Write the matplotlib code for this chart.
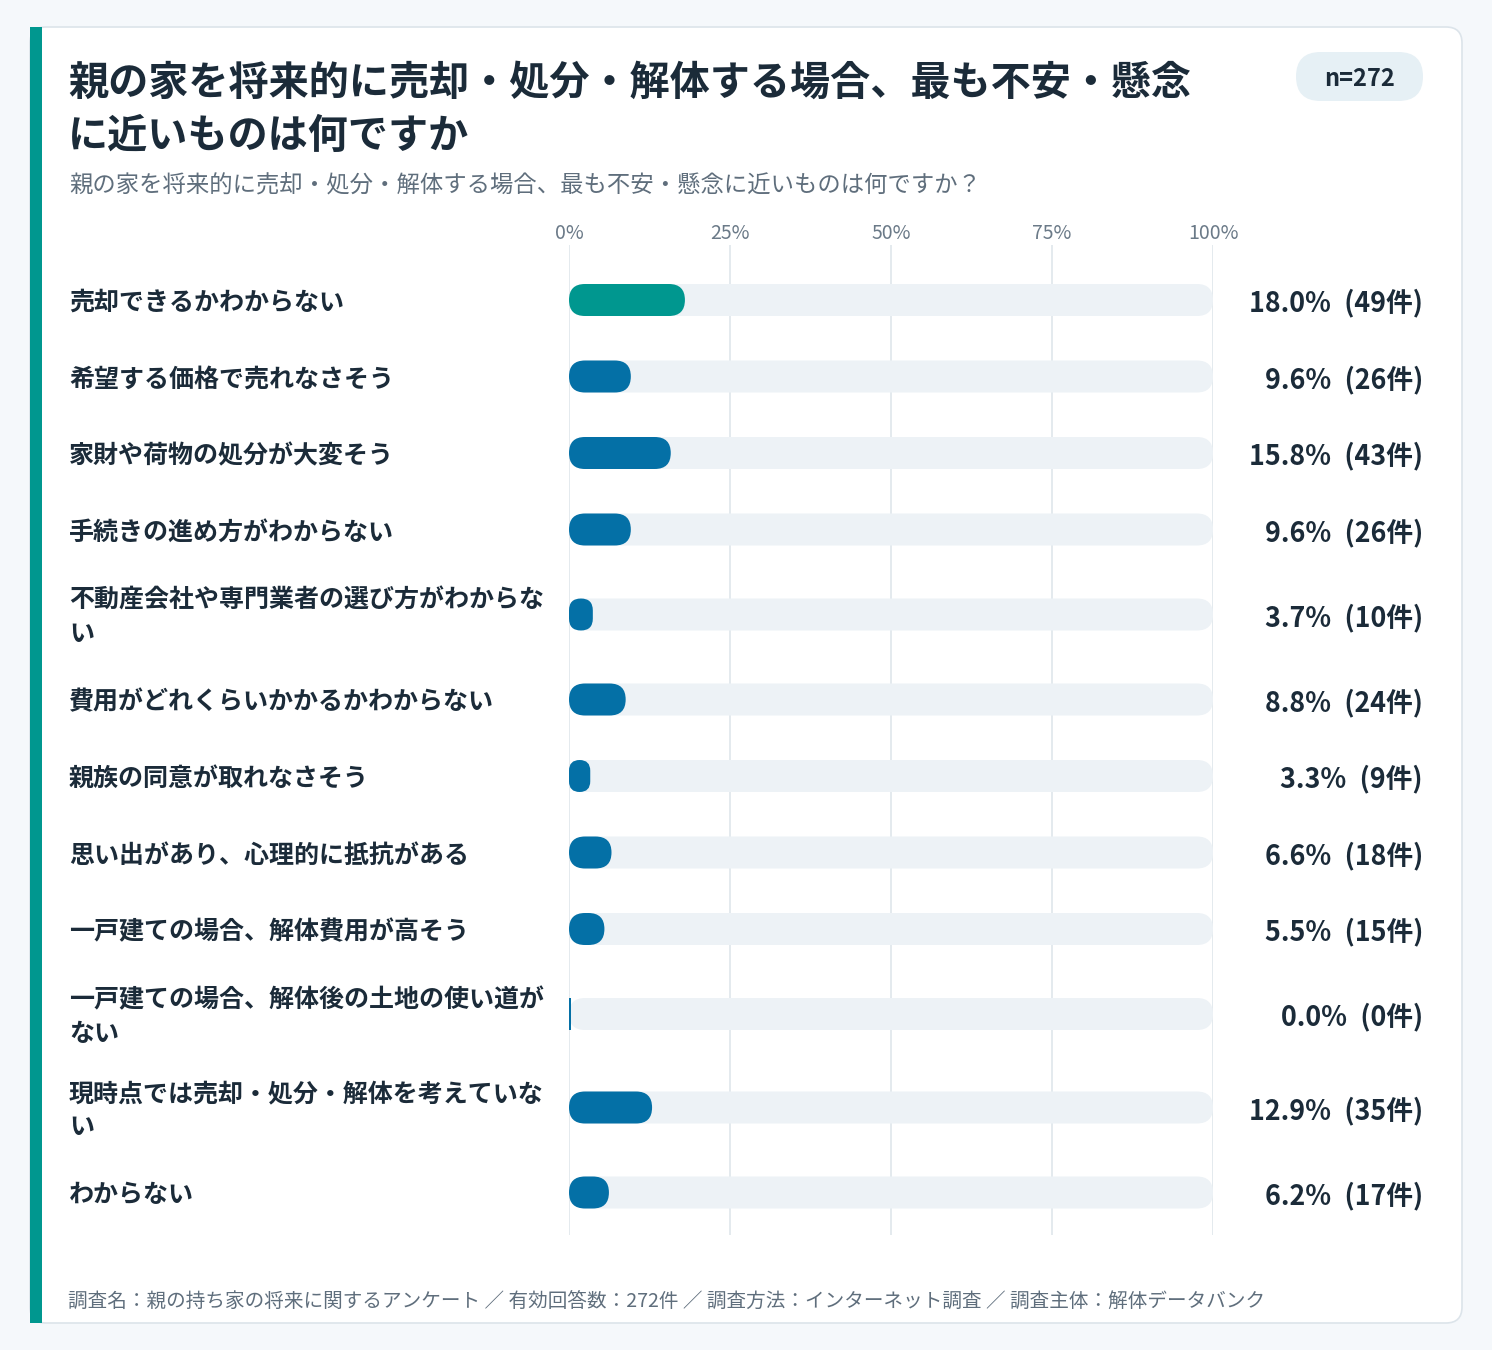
"""Survey bar chart: worries about selling / disposing of parents' house."""
import matplotlib
matplotlib.use("Agg")
import matplotlib.pyplot as plt
from matplotlib.patches import FancyBboxPatch, Rectangle

plt.rcParams["font.family"] = ["Noto Sans CJK JP", "DejaVu Sans"]

W, H = 1492, 1350

TITLE_LINES = ["親の家を将来的に売却・処分・解体する場合、最も不安・懸念",
               "に近いものは何ですか"]
SUBTITLE = "親の家を将来的に売却・処分・解体する場合、最も不安・懸念に近いものは何ですか？"
N_LABEL = "n=272"
FOOTER = ("調査名：親の持ち家の将来に関するアンケート ／ 有効回答数：272件 ／ "
          "調査方法：インターネット調査 ／ 調査主体：解体データバンク")

categories = [
    "売却できるかわからない",
    "希望する価格で売れなさそう",
    "家財や荷物の処分が大変そう",
    "手続きの進め方がわからない",
    "不動産会社や専門業者の選び方がわからな\nい",
    "費用がどれくらいかかるかわからない",
    "親族の同意が取れなさそう",
    "思い出があり、心理的に抵抗がある",
    "一戸建ての場合、解体費用が高そう",
    "一戸建ての場合、解体後の土地の使い道が\nない",
    "現時点では売却・処分・解体を考えていな\nい",
    "わからない",
]
percents = [18.0, 9.6, 15.8, 9.6, 3.7, 8.8, 3.3, 6.6, 5.5, 0.0, 12.9, 6.2]
counts = [49, 26, 43, 26, 10, 24, 9, 18, 15, 0, 35, 17]
xticks = [0, 25, 50, 75, 100]
xtick_labels = ["0%", "25%", "50%", "75%", "100%"]

BG = "#F5F8FB"
DARK = "#1B2B39"
GRAY = "#5F6E7C"
TEAL = "#00978F"
BLUE = "#0470A6"
TRACK = "#EDF2F6"
GRID = "#E2E8ED"

fig = plt.figure(figsize=(W / 100, H / 100), dpi=100, facecolor=BG)

# background / card layer in pixel coordinates
bg = fig.add_axes([0, 0, 1, 1])
bg.set_xlim(0, W)
bg.set_ylim(H, 0)
bg.axis("off")

bg.add_patch(FancyBboxPatch((30, 27), 1432, 1296,
                            boxstyle="round,pad=0,rounding_size=16",
                            fc="white", ec="#DCE4EA", lw=1.2))
bg.add_patch(Rectangle((30, 27), 12, 1296, fc=TEAL, ec="none"))

bg.text(68, 83, TITLE_LINES[0], fontsize=28.9, fontweight="bold",
        color=DARK, va="center", ha="left")
bg.text(68, 136, TITLE_LINES[1], fontsize=28.9, fontweight="bold",
        color=DARK, va="center", ha="left")
bg.text(69, 185, SUBTITLE, fontsize=16.8, color=GRAY, va="center", ha="left")

bg.add_patch(FancyBboxPatch((1296, 52), 127, 49,
                            boxstyle="round,pad=0,rounding_size=24.5",
                            fc="#E6F0F5", ec="none"))
bg.text(1359.5, 79, N_LABEL, fontsize=17, fontweight="bold", color=DARK,
        ha="center", va="center")

bg.text(68, 1302, FOOTER, fontsize=14.1, color=GRAY, va="center", ha="left")

# row layout: two-line labels get a taller row
pitch = [76.5 + 17 * lab.count("\n") for lab in categories]
centers = []
y = 300
for i, p in enumerate(pitch):
    if i > 0:
        y += (pitch[i - 1] + p) / 2
    centers.append(y)

# chart axes: x in percent, y in pixels
X0, X1, Y0, Y1 = 569, 1213, 245, 1235
ax = fig.add_axes([X0 / W, 1 - Y1 / H, (X1 - X0) / W, (Y1 - Y0) / H])
ax.set_xlim(0, 100)
ax.set_ylim(Y1, Y0)
ax.patch.set_alpha(0)
for s in ax.spines.values():
    s.set_visible(False)
ax.set_yticks([])
ax.set_xticks(xticks)
ax.set_xticklabels(xtick_labels, fontsize=14, color="#6B7A88")
ax.xaxis.tick_top()
ax.tick_params(axis="x", length=0, pad=0.5)
ax.grid(axis="x", color=GRID, lw=1.3)
ax.set_axisbelow(True)

px_per_pct = (X1 - X0) / 100.0
BAR_H = 32

def pill(x, yc, w_pct, color, z):
    w_px = w_pct * px_per_pct
    r_px = min(w_px, BAR_H) / 2
    ax.add_patch(FancyBboxPatch((x, yc - BAR_H / 2), w_pct, BAR_H,
                                boxstyle=f"round,pad=0,rounding_size={r_px / px_per_pct}",
                                mutation_aspect=px_per_pct,
                                fc=color, ec="none", zorder=z))

for i, (lab, v, n, yc) in enumerate(zip(categories, percents, counts, centers)):
    pill(0, yc, 100, TRACK, 2)
    color = TEAL if i == 0 else BLUE
    if v > 0:
        pill(0, yc, v, color, 3)
    else:
        ax.add_patch(Rectangle((-0.1, yc - BAR_H / 2), 3 / px_per_pct, BAR_H,
                               fc=color, ec="none", zorder=3))
    bg.text(69, yc + 3, lab, fontsize=18, fontweight="bold", color=DARK,
            ha="left", va="center", linespacing=1.48)
    bg.text(1423, yc + 3, f"{v:.1f}%\u2002({n}件)", fontsize=19.3,
            fontweight="bold", color=DARK, ha="right", va="center")

fig.savefig("out.png", dpi=100, facecolor=BG)
